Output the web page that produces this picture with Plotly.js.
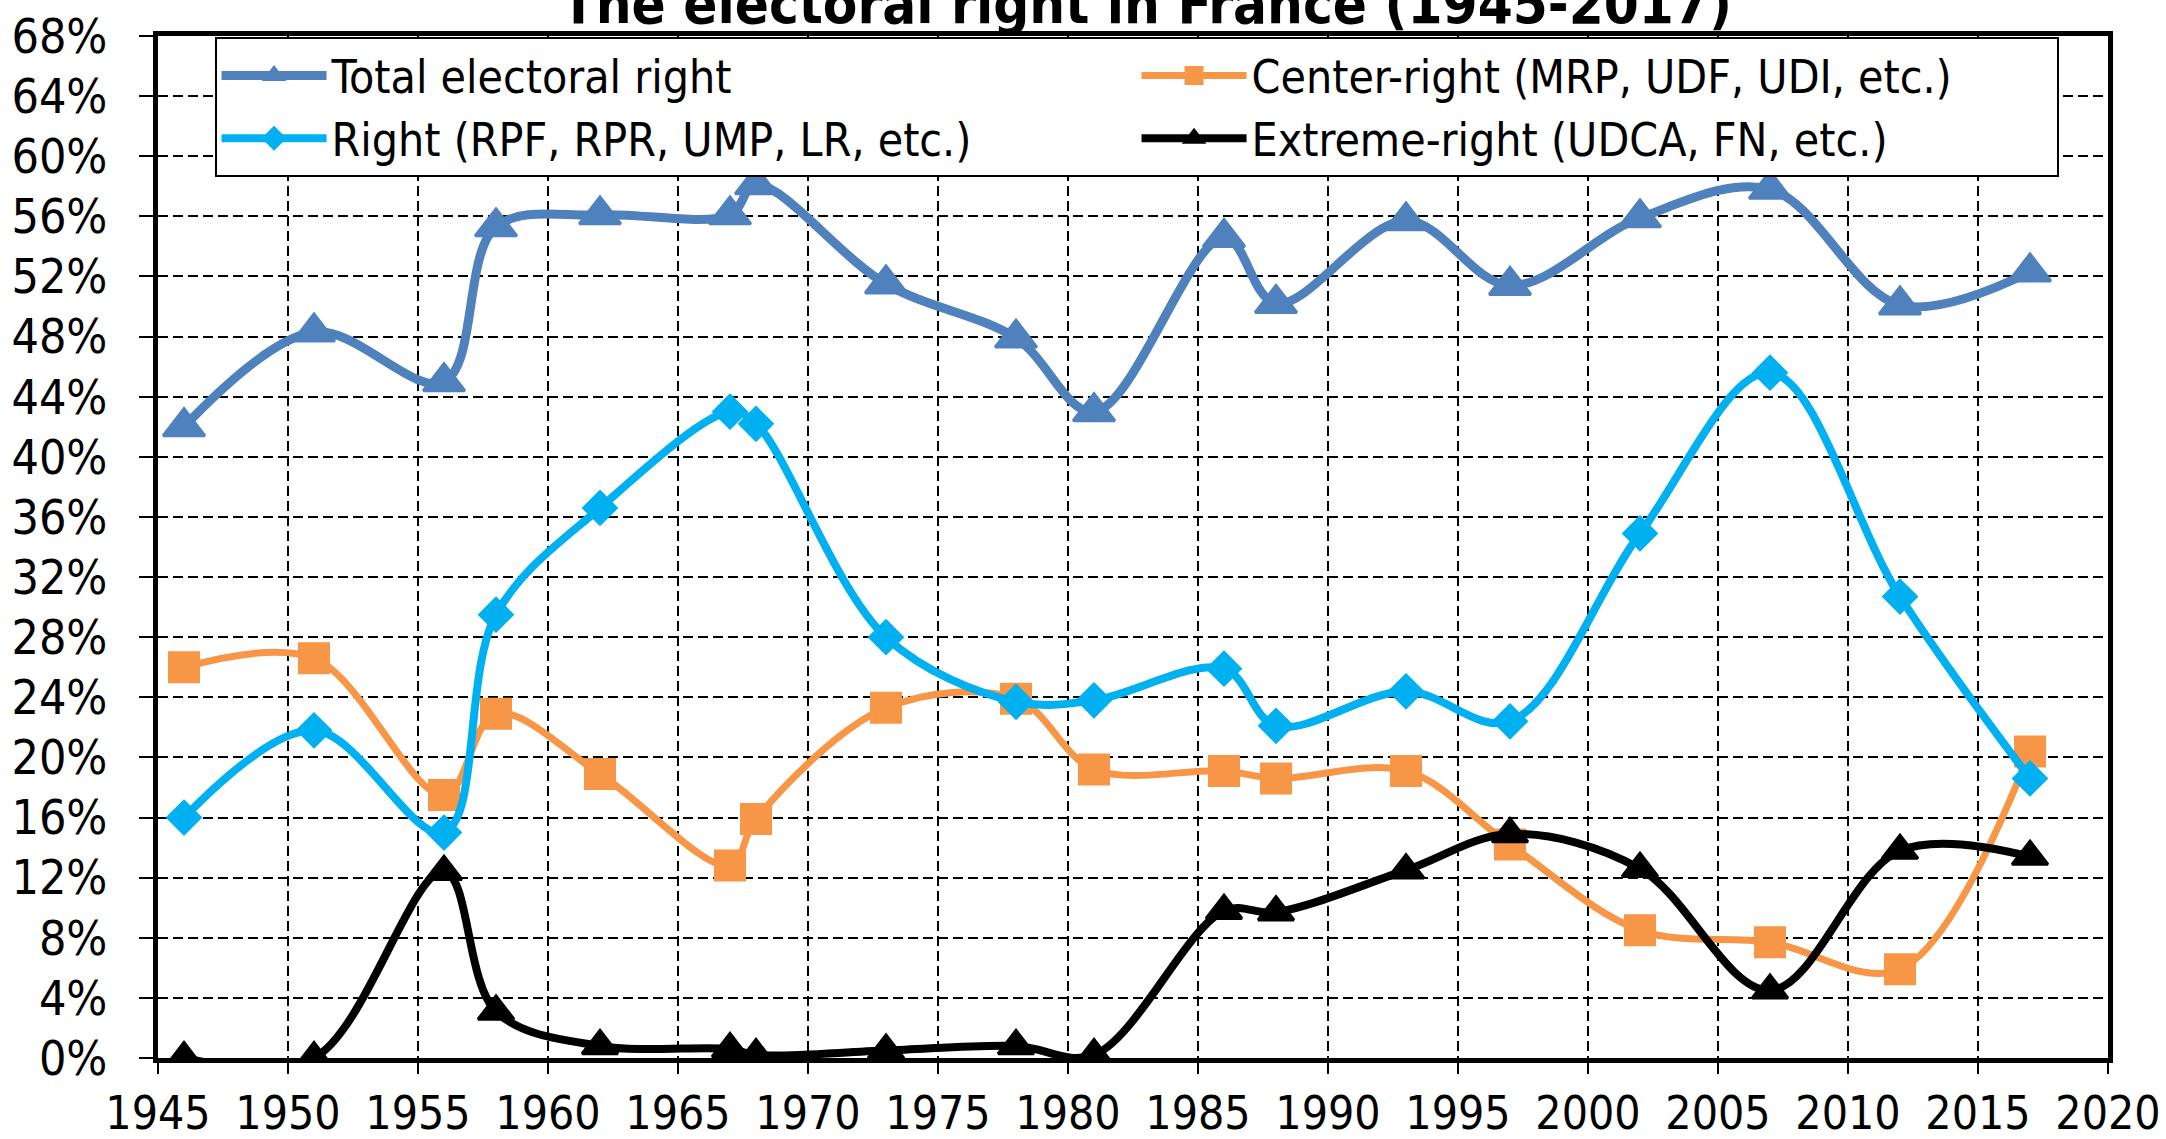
<!DOCTYPE html>
<html><head><meta charset="utf-8">
<script src="https://cdn.plot.ly/plotly-3.0.1.min.js"></script>
<style>html,body{margin:0;padding:0;background:#fff}#chart{width:2166px;height:1139px}</style>
</head><body><div id="chart"></div>
<script>
const years = [1946,1951,1956,1958,1962,1967,1968,1973,1978,1981,1986,1988,1993,1997,2002,2007,2012,2017];
const totalRight   = [42.0,48.3,45.0,55.3,56.1,56.1,58.1,51.5,47.9,43.0,54.6,50.2,55.7,51.4,55.9,57.8,50.1,52.3];
const centerRight  = [26.0,26.6,17.5,22.9,18.9,12.8,15.9,23.3,23.9,19.2,19.1,18.6,19.1,14.2,8.5,7.7,5.9,20.4];
const rightParty   = [16.0,21.8,15.0,29.5,36.6,43.0,42.2,28.0,23.7,23.8,25.9,22.1,24.4,22.4,34.9,45.6,30.7,18.6];
const extremeRight = [0,0,12.4,3.1,0.8,0.6,0.2,0.5,0.8,0.2,9.8,9.7,12.5,14.9,12.6,4.5,13.8,13.4];
const seriesNames = ["Total electoral right","Center-right (MRP, UDF, UDI, etc.)","Right (RPF, RPR, UMP, LR, etc.)","Extreme-right (UDCA, FN, etc.)"];
const titleText = "The electoral right in France (1945-2017)";
const xTicks = [1945,1950,1955,1960,1965,1970,1975,1980,1985,1990,1995,2000,2005,2010,2015,2020];
const yTicks = [0,4,8,12,16,20,24,28,32,36,40,44,48,52,56,60,64,68];
const yTickText = yTicks.map(v => v + "%");

const FONT = '"Liberation Sans Narrow","Arial Narrow","DejaVu Sans Condensed","Liberation Sans",Arial,sans-serif';

function tr(name, y, color, symbol, msize, lw) {
  return {x: years, y: y, name: name, type: 'scatter', mode: 'lines+markers',
    line: {color: color, width: lw, shape: 'spline', smoothing: 1},
    marker: {color: color, symbol: symbol, size: msize, line: {color: color, width: 3}}};
}
const data = [
  tr(seriesNames[0], totalRight, '#4F81BD', 'triangle-up', 36, 9),
  tr(seriesNames[1], centerRight, '#F79646', 'square', 29, 7),
  tr(seriesNames[2], rightParty, '#00B0F0', 'diamond', 25, 8),
  tr(seriesNames[3], extremeRight, '#000000', 'triangle-up', 31, 8)
];
const layout = {
  width: 2166, height: 1139,
  margin: {l: 158, r: 58, t: 36, b: 81},
  paper_bgcolor: '#fff', plot_bgcolor: '#fff',
  font: {family: FONT, color: '#000', size: 48},
  title: {text: titleText, font: {family: FONT, size: 56, weight: 'bold', color: '#000'},
    xref: 'paper', x: 0.507, xanchor: 'center', yref: 'container', y: 0.997, yanchor: 'middle'},
  xaxis: {range: [1945, 2020], tickvals: xTicks, ticktext: xTicks.map(String), tickangle: 0,
    showline: true, linewidth: 5, linecolor: '#000', mirror: true,
    ticks: 'outside', ticklen: 11, tickwidth: 2, tickcolor: '#000',
    showgrid: true, gridcolor: '#000', gridwidth: 2, griddash: '10px,5px', zeroline: false,
    tickfont: {family: FONT, size: 46}, ticklabelstandoff: 0},
  yaxis: {range: [0, 68], tickvals: yTicks, ticktext: yTickText,
    showline: true, linewidth: 5, linecolor: '#000', mirror: true,
    ticks: 'outside', ticklen: 14, tickwidth: 2, tickcolor: '#000',
    showgrid: true, gridcolor: '#000', gridwidth: 2, griddash: '10px,5px', zeroline: false,
    tickfont: {family: FONT, size: 48}, ticklabelstandoff: 22},
  legend: {orientation: 'h', x: 0.029, y: 0.999, xanchor: 'left', yanchor: 'top',
    bgcolor: '#fff', bordercolor: '#000', borderwidth: 2,
    font: {family: FONT, size: 46}, itemwidth: 105, entrywidth: 800,
    traceorder: 'normal'},
  showlegend: true
};
Plotly.newPlot('chart', data, layout, {displayModeBar: false, staticPlot: true});
</script></body></html>
